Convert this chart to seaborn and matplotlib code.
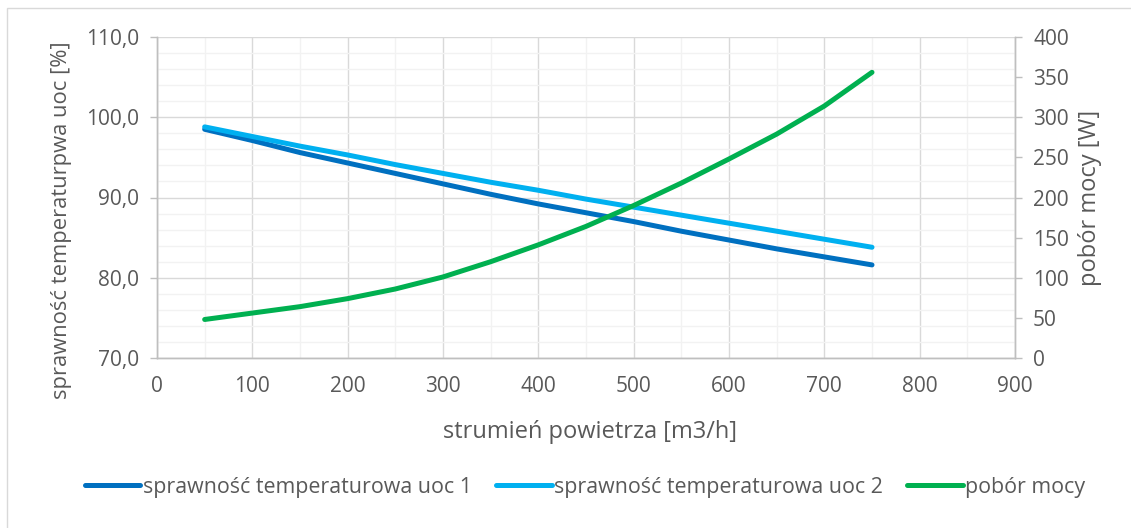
import numpy as np
import pandas as pd
import matplotlib.pyplot as plt
import seaborn as sns
from matplotlib.ticker import FuncFormatter, MultipleLocator
from matplotlib.patches import Rectangle

# ---- data ----
flow = [50, 100, 150, 200, 250, 300, 350, 400, 450, 500, 550, 600, 650, 700, 750]
eff_uoc1 = [98.5, 97.1, 95.6, 94.3, 93.0, 91.7, 90.4, 89.2, 88.1, 87.0, 85.8, 84.7, 83.6, 82.6, 81.6]
eff_uoc2 = [98.8, 97.6, 96.4, 95.3, 94.1, 93.0, 91.9, 90.9, 89.8, 88.8, 87.8, 86.8, 85.8, 84.8, 83.8]
power = [48, 56, 64, 74, 86, 101, 120, 141, 164, 190, 218, 248, 279, 314, 356]

lab1 = "sprawność temperaturowa uoc 1"
lab2 = "sprawność temperaturowa uoc 2"
lab3 = "pobór mocy"

df = pd.DataFrame({"flow": flow, lab1: eff_uoc1, lab2: eff_uoc2, lab3: power})

sns.set_theme(style="white")
plt.rcParams['font.family'] = ['Open Sans', 'DejaVu Sans']
txt = '#595959'
grid_major = '#D9D9D9'
grid_minor = '#F2F2F2'

fig = plt.figure(figsize=(11.31, 5.28), dpi=100)
ax = fig.add_axes([157 / 1131, 1 - 358 / 528, (1015 - 157) / 1131, (358 - 37) / 528])
ax2 = ax.twinx()

# chart frame (Excel-like border)
fig.patches.append(Rectangle((7 / 1131, -0.1), 1.2, 1 - 8 / 528 + 0.1, transform=fig.transFigure,
                             fill=False, edgecolor='#D9D9D9', linewidth=1.0))

lw = 3.6
sns.lineplot(data=df, x="flow", y=lab1, ax=ax, color='#0070C0', linewidth=lw,
             solid_capstyle='round', solid_joinstyle='round', label=lab1, legend=False)
sns.lineplot(data=df, x="flow", y=lab2, ax=ax, color='#00B0F0', linewidth=lw,
             solid_capstyle='round', solid_joinstyle='round', label=lab2, legend=False)
sns.lineplot(data=df, x="flow", y=lab3, ax=ax2, color='#00B050', linewidth=lw,
             solid_capstyle='round', solid_joinstyle='round', label=lab3, legend=False)

ax.set_xlim(0, 900)
ax.set_ylim(70, 110)
ax2.set_ylim(0, 400)

ax.xaxis.set_major_locator(MultipleLocator(100))
ax.xaxis.set_minor_locator(MultipleLocator(50))
ax.yaxis.set_major_locator(MultipleLocator(10))
ax.yaxis.set_minor_locator(MultipleLocator(2))
ax2.yaxis.set_major_locator(MultipleLocator(50))

ax.grid(which='major', color=grid_major, linewidth=1.0)
ax.grid(which='minor', color=grid_minor, linewidth=1.0)
ax.set_axisbelow(True)
ax2.grid(False)

ax.yaxis.set_major_formatter(FuncFormatter(lambda v, p: f"{v:.1f}".replace('.', ',')))

for a in (ax, ax2):
    a.spines['top'].set_visible(False)
    for s in ['left', 'right', 'bottom']:
        a.spines[s].set_color('#BFBFBF')
        a.spines[s].set_linewidth(1.0)

ax.tick_params(axis='both', which='major', labelsize=15, colors='#BFBFBF', labelcolor=txt,
               length=5, width=1.0, direction='out')
ax.tick_params(axis='both', which='minor', length=0)
ax.tick_params(axis='x', pad=8)
ax.tick_params(axis='y', pad=8)
ax2.tick_params(axis='y', labelsize=15, colors='#BFBFBF', labelcolor=txt,
                length=5, width=1.0, direction='out', pad=8)

ax.set_xlabel("strumień powietrza [m3/h]", fontsize=17, color=txt)
ax.set_ylabel("sprawność temperaturpwa uoc [%]", fontsize=15.8, color=txt)
ax2.set_ylabel("pobór mocy [W]", fontsize=17, color=txt)
ax.xaxis.set_label_coords((590 - 157) / 858, (358 - 432) / 321)
ax.xaxis.label.set_va('center')
ax.yaxis.set_label_coords((62 - 157) / 858, (358 - 220) / 321)
ax.yaxis.label.set_va('center')
ax2.yaxis.set_label_coords((1090 - 157) / 858, 0.5)
ax2.yaxis.label.set_va('center')

h1, l1 = ax.get_legend_handles_labels()
h2, l2 = ax2.get_legend_handles_labels()
fig.legend(h1 + h2, l1 + l2, loc='center', bbox_to_anchor=(585 / 1131, 1 - 487 / 528), ncol=3,
           frameon=False, fontsize=15.4, labelcolor=txt, handlelength=2.6, handletextpad=0.1,
           columnspacing=1.15)

fig.savefig("out.png", dpi=100)
